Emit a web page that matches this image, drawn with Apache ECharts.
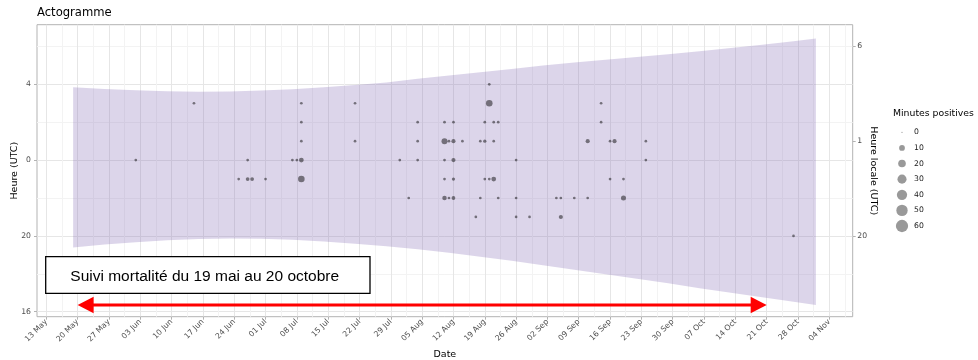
<!DOCTYPE html>
<html><head><meta charset="utf-8">
<script src="https://cdn.jsdelivr.net/npm/echarts@6/dist/echarts.min.js"></script>
<style>html,body{margin:0;padding:0;background:#fff}#c{width:978px;height:360px}</style>
</head><body><div id="c"></div>
<script>
// ---------- DATA ----------
// Night band (sunset -> sunrise), hours in UTC
const bandDates = ['2024-05-19','2024-05-26','2024-06-02','2024-06-09','2024-06-16','2024-06-23','2024-06-30',
  '2024-07-07','2024-07-14','2024-07-21','2024-07-28','2024-08-04','2024-08-11','2024-08-18','2024-08-25',
  '2024-09-01','2024-09-08','2024-09-15','2024-09-22','2024-09-29','2024-10-06','2024-10-13','2024-10-20',
  '2024-10-27','2024-11-01'];
const sunriseUTC = [3.84,3.75,3.68,3.63,3.61,3.62,3.67,3.74,3.84,3.96,4.10,4.29,4.46,4.63,4.81,
  4.99,5.15,5.30,5.44,5.59,5.75,5.92,6.09,6.27,6.42];
const sunsetUTC = [19.39,19.54,19.67,19.77,19.83,19.86,19.85,19.80,19.71,19.59,19.45,19.29,19.11,18.90,18.69,
  18.45,18.21,17.98,17.74,17.50,17.24,17.00,16.76,16.53,16.36];

// Detections: date, hour (UTC), positive minutes
const dotDates = [
  '2024-06-15','2024-07-09','2024-07-21','2024-08-20','2024-09-14',
  '2024-08-20',
  '2024-07-09','2024-08-04','2024-08-10','2024-08-12','2024-08-19','2024-08-21','2024-08-22','2024-09-14',
  '2024-07-09','2024-07-21','2024-08-04','2024-08-10','2024-08-11','2024-08-12','2024-08-14','2024-08-18',
  '2024-08-19','2024-08-21','2024-09-11','2024-09-16','2024-09-17','2024-09-24',
  '2024-06-02','2024-06-27','2024-07-07','2024-07-08','2024-07-09','2024-07-31','2024-08-04','2024-08-10',
  '2024-08-12','2024-08-26','2024-09-24',
  '2024-06-25','2024-06-27','2024-06-28','2024-07-01','2024-07-09','2024-08-10','2024-08-12','2024-08-19',
  '2024-08-20','2024-08-21','2024-09-16','2024-09-19',
  '2024-08-02','2024-08-10','2024-08-11','2024-08-12','2024-08-18','2024-08-22','2024-08-26','2024-09-04',
  '2024-09-05','2024-09-08','2024-09-11','2024-09-19',
  '2024-08-17','2024-08-26','2024-08-29','2024-09-05',
  '2024-10-27'];
const dotHoursUTC = [
  3,3,3,3,3,
  4,
  2,2,2,2,2,2,2,2,
  1,1,1,1,1,1,1,1,1,1,1,1,1,1,
  0,0,0,0,0,0,0,0,0,0,0,
  23,23,23,23,23,23,23,23,23,23,23,23,
  22,22,22,22,22,22,22,22,22,22,22,22,
  21,21,21,21,
  20];
const dotMinutes = [
  1,1,1,14,1,
  1,
  1,1,1,1,1,1,1,1,
  1,1,1,11,1,4,1,1,2,1,4,1,4,1,
  1,1,1,1,6,1,1,1,4,1,1,
  1,3,3,1,14,1,2,1,1,6,1,1,
  1,5,1,3,1,1,1,1,1,1,1,7,
  1,1,1,4,
  1];

// Axis ticks
const xTickDates = ['2024-05-13','2024-05-20','2024-05-27','2024-06-03','2024-06-10','2024-06-17','2024-06-24',
  '2024-07-01','2024-07-08','2024-07-15','2024-07-22','2024-07-29','2024-08-05','2024-08-12','2024-08-19',
  '2024-08-26','2024-09-02','2024-09-09','2024-09-16','2024-09-23','2024-09-30','2024-10-07','2024-10-14',
  '2024-10-21','2024-10-28','2024-11-04'];
const yLeftTickHours = [4, 0, 20, 16];
const yLeftMinorHours = [6, 2, 22, 18];
const yRightTickHours = [6, 1, 20];
const legendMinutes = [0, 10, 20, 30, 40, 50, 60];

// Annotation
const arrowDates = ['2024-05-20', '2024-10-21'];
const arrowHourUTC = 16.35;
const annotationText = 'Suivi mortalité du 19 mai au 20 octobre';

// ---------- HELPERS ----------
const DAY = 86400000;
const MONTHS = ['Jan','Feb','Mar','Apr','May','Jun','Jul','Aug','Sep','Oct','Nov','Dec'];
const toT = s => Date.parse(s + 'T00:00:00Z');
const toV = h => (h >= 12 ? h - 24 : h);       // hours centred on midnight
const fmtHour = v => String(((Math.round(v) % 24) + 24) % 24);
const fmtDate = t => { const d = new Date(t); return String(d.getUTCDate()).padStart(2,'0') + ' ' + MONTHS[d.getUTCMonth()]; };
const sizeOf = m => 1.3 + 11 * Math.sqrt(m / 60);

const xTicks = xTickDates.map(toT);
const xMinor = xTicks.map(t => t + 3.5 * DAY);
const X_MIN = xTicks[0] - 2.08 * DAY, X_MAX = xTicks[xTicks.length - 1] + 5.23 * DAY;
const Y_MIN = -8.264, Y_MAX = 7.145;

const bandData = bandDates.map((d, i) => [toT(d), toV(sunriseUTC[i]), toV(sunsetUTC[i])]);
const dotData = dotDates.map((d, i) => [toT(d), toV(dotHoursUTC[i]), dotMinutes[i]]);

const axisTxt = {fontSize: 7.7, color: '#4D4D4D', fontFamily: 'DejaVu Sans'};
const tickStyle = {color: '#B3B3B3', width: 1};
const noLine = {show: false, onZero: false};
const nameTxt = {fontSize: 9.5, color: '#000', fontFamily: 'DejaVu Sans'};

const chart = echarts.init(document.getElementById('c'), null, {renderer: 'canvas', devicePixelRatio: 1});
chart.setOption({
  animation: false,
  textStyle: {fontFamily: 'DejaVu Sans'},
  title: [
    {text: 'Actogramme', left: 37, top: 7, padding: 0,
     textStyle: {fontSize: 11.6, fontWeight: 'normal', color: '#000', fontFamily: 'DejaVu Sans'}},
    {text: 'Minutes positives', left: 893, top: 109, padding: 0,
     textStyle: {fontSize: 9.3, fontWeight: 'normal', color: '#000', fontFamily: 'DejaVu Sans'}}
  ],
  grid: [
    {left: 37, right: 125.3, top: 24.7, bottom: 43.3, show: true, borderColor: '#B3B3B3', borderWidth: 1,
     backgroundColor: '#fff', containLabel: false, outerBoundsMode: 'none'},
    {left: 893, top: 132.3, width: 18, height: 93.7, show: false, containLabel: false, outerBoundsMode: 'none'}
  ],
  xAxis: [
    {type: 'value', gridIndex: 0, min: X_MIN, max: X_MAX, position: 'bottom',
     name: 'Date', nameLocation: 'middle', nameGap: 33, nameMoveOverlap: false, nameTextStyle: nameTxt,
     axisLine: noLine,
     axisTick: {show: true, length: 3, lineStyle: tickStyle, customValues: xTicks},
     axisLabel: Object.assign({customValues: xTicks, rotate: 45, margin: 4, formatter: fmtDate}, axisTxt),
     splitLine: {show: true, lineStyle: {color: '#E6E6E6', width: 1}}},
    {type: 'value', gridIndex: 0, min: X_MIN, max: X_MAX, position: 'top',
     axisLine: noLine, axisTick: {show: false, customValues: xMinor}, axisLabel: {show: false, customValues: xMinor},
     splitLine: {show: true, lineStyle: {color: '#F3F3F3', width: 1}}},
    {type: 'value', gridIndex: 1, min: -1, max: 1, show: false}
  ],
  yAxis: [
    {type: 'value', gridIndex: 0, min: Y_MIN, max: Y_MAX, position: 'left',
     name: 'Heure (UTC)', nameLocation: 'middle', nameGap: 17, nameRotate: 90, nameMoveOverlap: false,
     nameTextStyle: nameTxt,
     axisLine: noLine,
     axisTick: {show: true, length: 3, lineStyle: tickStyle, customValues: yLeftTickHours.map(toV)},
     axisLabel: Object.assign({customValues: yLeftTickHours.map(toV), margin: 6, formatter: fmtHour}, axisTxt),
     splitLine: {show: true, lineStyle: {color: '#E6E6E6', width: 1}}},
    {type: 'value', gridIndex: 0, min: Y_MIN, max: Y_MAX, position: 'right',
     name: 'Heure locale (UTC)', nameLocation: 'middle', nameGap: 16, nameRotate: -90, nameMoveOverlap: false,
     nameTextStyle: nameTxt,
     axisLine: noLine,
     axisTick: {show: true, length: 3, lineStyle: tickStyle, customValues: yRightTickHours.map(toV)},
     axisLabel: Object.assign({customValues: yRightTickHours.map(toV), margin: 4.6, formatter: fmtHour}, axisTxt),
     splitLine: {show: false}},
    {type: 'value', gridIndex: 0, min: Y_MIN, max: Y_MAX, position: 'left',
     axisLine: noLine, axisTick: {show: false, customValues: yLeftMinorHours.map(toV)},
     axisLabel: {show: false, customValues: yLeftMinorHours.map(toV)},
     splitLine: {show: true, lineStyle: {color: '#F3F3F3', width: 1}}},
    {type: 'value', gridIndex: 1, min: 0, max: 60, inverse: true, position: 'right',
     axisLine: noLine, axisTick: {show: false, customValues: legendMinutes},
     axisLabel: {customValues: legendMinutes, margin: 3, fontSize: 7.7, color: '#1A1A1A', fontFamily: 'DejaVu Sans'},
     splitLine: {show: false}}
  ],
  series: [
    {type: 'custom', name: 'nuit', xAxisIndex: 0, yAxisIndex: 0, silent: true, z: 1,
     data: bandData, encode: {x: 0, y: [1, 2]},
     renderItem: (params, api) => {
       if (params.dataIndex !== 0) return null;
       const top = bandData.map(r => api.coord([r[0], r[1]]));
       const bot = bandData.map(r => api.coord([r[0], r[2]])).reverse();
       return {type: 'polygon', shape: {points: top.concat(bot)},
               style: {fill: 'rgba(125,98,178,0.27)'}};
     }},
    {type: 'scatter', name: 'Minutes positives', xAxisIndex: 0, yAxisIndex: 0, z: 3,
     data: dotData, symbol: 'circle',
     symbolSize: v => sizeOf(v[2]),
     itemStyle: {color: 'rgba(0,0,0,0.6)'}},
    {type: 'custom', name: 'suivi', xAxisIndex: 0, yAxisIndex: 0, silent: true, z: 5,
     data: [[toT(arrowDates[0]), toT(arrowDates[1]), toV(arrowHourUTC)]], encode: {x: [0, 1], y: 2},
     renderItem: (params, api) => {
       const p1 = api.coord([api.value(0), api.value(2)]);
       const p2 = api.coord([api.value(1), api.value(2)]);
       const L = 16, H = 8.3;
       return {type: 'group', children: [
         {type: 'line', shape: {x1: p1[0] + L - 1, y1: p1[1], x2: p2[0] - L + 1, y2: p2[1]},
          style: {stroke: '#FF0000', lineWidth: 3}},
         {type: 'polygon', shape: {points: [[p1[0], p1[1]], [p1[0] + L, p1[1] - H], [p1[0] + L, p1[1] + H]]},
          style: {fill: '#FF0000'}},
         {type: 'polygon', shape: {points: [[p2[0], p2[1]], [p2[0] - L, p2[1] - H], [p2[0] - L, p2[1] + H]]},
          style: {fill: '#FF0000'}}
       ]};
     }},
    {type: 'scatter', name: 'legende', xAxisIndex: 2, yAxisIndex: 3, silent: true,
     data: legendMinutes.map(m => [0, m]), symbol: 'circle',
     symbolSize: v => sizeOf(v[1]),
     itemStyle: {color: 'rgba(0,0,0,0.5)'}}
  ],
  graphic: [
    {type: 'rect', z: 10, shape: {x: 45.7, y: 256.7, width: 324.3, height: 36.6},
     style: {fill: '#fff', stroke: '#000', lineWidth: 1.3}},
    {type: 'text', z: 11, x: 204.7, y: 276.5,
     style: {text: annotationText, fontSize: 15.5, fontFamily: 'Liberation Sans', fill: '#000',
             align: 'center', verticalAlign: 'middle'}}
  ]
});
</script>
</body></html>
